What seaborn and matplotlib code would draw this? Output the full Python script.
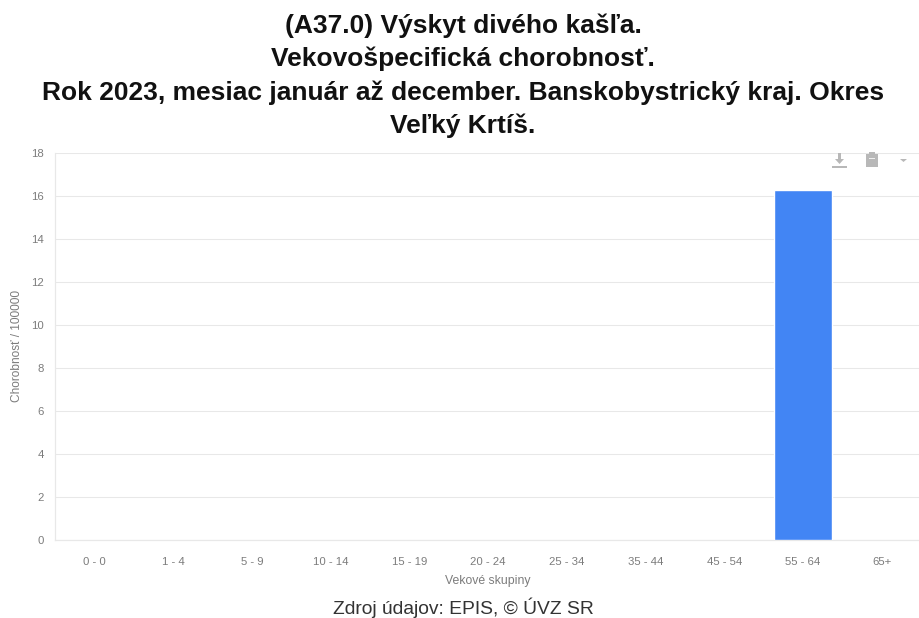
import matplotlib
matplotlib.use("Agg")
import matplotlib.pyplot as plt
import pandas as pd
import seaborn as sns
from matplotlib.patches import Polygon, Rectangle

age_groups = ['0 - 0', '1 - 4', '5 - 9', '10 - 14', '15 - 19', '20 - 24',
              '25 - 34', '35 - 44', '45 - 54', '55 - 64', '65+']
morbidity = [0, 0, 0, 0, 0, 0, 0, 0, 0, 16.3, 0]
y_ticks = [0, 2, 4, 6, 8, 10, 12, 14, 16, 18]

title_lines = [
    '(A37.0) Výskyt divého kašľa.',
    'Vekovošpecifická chorobnosť.',
    'Rok 2023, mesiac január až december. Banskobystrický kraj. Okres',
    'Veľký Krtíš.',
]

W, H = 920, 618
GRID = '#e8e8e8'
TICK_TEXT = '#7c7c7c'
ICON = '#b8b8b8'

sns.set_theme(style='white')
plt.rcParams['font.family'] = ['Liberation Sans', 'DejaVu Sans']

df = pd.DataFrame({'skupina': age_groups, 'chorobnost': morbidity})

fig = plt.figure(figsize=(W / 100, H / 100), dpi=100)
ax = fig.add_axes([55 / W, 1 - 540 / H, 866 / W, 387 / H])

sns.barplot(data=df, x='skupina', y='chorobnost', order=age_groups,
            color='#4285f4', saturation=1, width=0.73, ax=ax, zorder=3)

ax.set_xlim(-0.5, len(age_groups) - 0.5)
ax.set_ylim(0, 18)
ax.set_yticks(y_ticks)
ax.grid(axis='y', color=GRID, linewidth=0.75)
ax.set_axisbelow(True)

for side in ['top', 'right']:
    ax.spines[side].set_visible(False)
for side in ['left', 'bottom']:
    ax.spines[side].set_color(GRID)
    ax.spines[side].set_linewidth(0.9)

ax.tick_params(axis='x', length=5, width=0.75, color=GRID,
               labelcolor=TICK_TEXT, labelsize=8.2, pad=7)
ax.tick_params(axis='y', length=5, width=0.75, color=GRID,
               labelcolor=TICK_TEXT, labelsize=8.2, pad=3)

ax.set_xlabel('Vekové skupiny', fontsize=8.8, color=TICK_TEXT, labelpad=6)
ax.set_ylabel('Chorobnosť / 100000', fontsize=8.6, color=TICK_TEXT, labelpad=8)
ax.yaxis.set_label_coords((23 - 55) / 866, 0.5)

# nadpis a zdroj
for line, y_px in zip(title_lines, [26, 59, 93, 126]):
    fig.text(463 / W, 1 - y_px / H, line, ha='center', va='center',
             fontsize=19, fontweight='bold', color='#111111')
fig.text(463 / W, 1 - 608 / H, 'Zdroj údajov: EPIS, © ÚVZ SR', ha='center',
         va='center', fontsize=13.9, color='#333333')

# ikony nastrojov vpravo hore
def px(x, y):
    return (x / W, 1 - y / H)

def icon_poly(points):
    fig.add_artist(Polygon([px(x, y) for x, y in points], closed=True,
                           facecolor=ICON, edgecolor='none',
                           transform=fig.transFigure, zorder=5))

def icon_rect(x, y, w, h, color=ICON):
    fig.add_artist(Rectangle(px(x, y + h), w / W, h / H, facecolor=color,
                             edgecolor='none', transform=fig.transFigure,
                             zorder=5))

icon_rect(838, 153, 3, 7)
icon_poly([(835, 159), (844, 159), (839.5, 164)])
icon_rect(832, 166, 15, 1.5)
icon_rect(866, 154, 12, 13)
icon_rect(869, 152, 6, 3)
icon_rect(869, 158, 6, 1, color='#eeeeee')
icon_poly([(900, 159), (907, 159), (903.5, 162)])

fig.savefig('out.png', dpi=100)
